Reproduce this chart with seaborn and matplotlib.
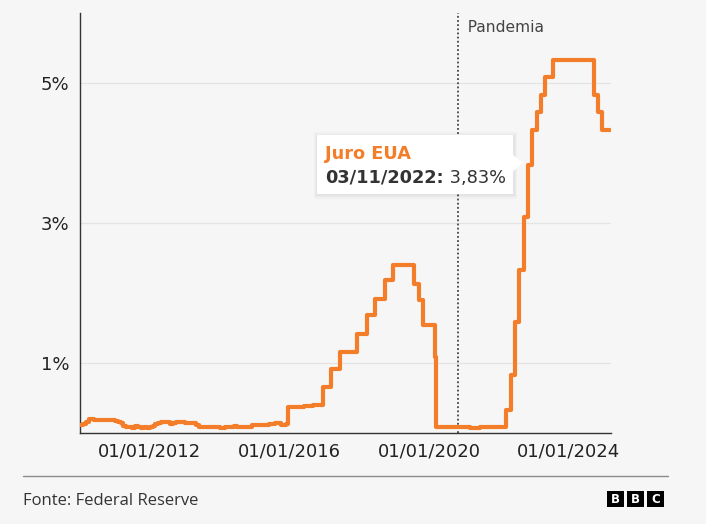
import numpy as np
import pandas as pd
import matplotlib
matplotlib.use("Agg")
import matplotlib.pyplot as plt
import matplotlib.dates as mdates
import matplotlib.ticker as mticker
import seaborn as sns
from matplotlib.patches import Polygon, Rectangle

# ---------------- data ----------------
early_start = "2010-01-01"
early_end = "2015-11-01"
early_rates = [
    0.11, 0.13, 0.16, 0.20, 0.20, 0.18, 0.18, 0.19, 0.19, 0.19, 0.19, 0.18,   # 2010
    0.17, 0.16, 0.14, 0.10, 0.09, 0.09, 0.07, 0.10, 0.08, 0.07, 0.08, 0.07,   # 2011
    0.08, 0.10, 0.13, 0.14, 0.16, 0.16, 0.16, 0.13, 0.14, 0.16, 0.16, 0.16,   # 2012
    0.14, 0.15, 0.14, 0.15, 0.11, 0.09, 0.09, 0.08, 0.08, 0.09, 0.08, 0.09,   # 2013
    0.07, 0.07, 0.08, 0.09, 0.09, 0.10, 0.09, 0.09, 0.09, 0.09, 0.09, 0.12,   # 2014
    0.11, 0.11, 0.11, 0.12, 0.12, 0.13, 0.13, 0.14, 0.14, 0.12, 0.12,         # 2015
]
step_dates = [
    "2015-12-01", "2015-12-17", "2016-03-01", "2016-06-01", "2016-09-01",
    "2016-12-15", "2017-03-16", "2017-06-15", "2017-12-14", "2018-03-22",
    "2018-06-14", "2018-09-27", "2018-12-20", "2019-08-01", "2019-09-19",
    "2019-10-31", "2020-03-04", "2020-03-16", "2020-06-01", "2020-11-01",
    "2021-03-01", "2021-06-17", "2022-01-01", "2022-03-17", "2022-05-05",
    "2022-06-16", "2022-07-28", "2022-09-22", "2022-11-03", "2022-12-15",
    "2023-02-02", "2023-03-23", "2023-05-04", "2023-07-27", "2024-09-19",
    "2024-11-08", "2024-12-19", "2025-03-14",
]
step_rates = [
    0.13, 0.37, 0.37, 0.38, 0.40,
    0.66, 0.91, 1.16, 1.42, 1.68,
    1.91, 2.19, 2.40, 2.13, 1.90,
    1.55, 1.09, 0.08, 0.08, 0.09,
    0.07, 0.08, 0.08, 0.33, 0.83,
    1.58, 2.33, 3.08, 3.83, 4.33,
    4.58, 4.83, 5.08, 5.33, 4.83,
    4.58, 4.33, 4.33,
]
series_name = "Juro EUA"
pandemic_date = "2020-11-03"
pandemic_label = "Pandemia"
tooltip_date = "03/11/2022:"
tooltip_value = " 3,83%"
y_ticks = [1, 3, 5]
y_tick_labels = ["1%", "3%", "5%"]
labelled_years = [2012, 2016, 2020, 2024]
source_text = "Fonte: Federal Reserve"

dates = list(pd.date_range(early_start, early_end, freq="MS")) + list(pd.to_datetime(step_dates))
rates = early_rates + step_rates
df = pd.DataFrame({"date": dates, "rate": rates})

# ---------------- style ----------------
BG = "#f6f6f6"
ORANGE = "#f47d2a"
DARK = "#222222"
W, H = 706, 524

sns.set_theme(style="white")
plt.rcParams["font.family"] = ["DejaVu Sans"]

fig = plt.figure(figsize=(W / 100, H / 100), dpi=100, facecolor=BG)

def fx(x):
    return x / W

def fy(y):
    return 1 - y / H

ax = fig.add_axes([fx(80), fy(433), fx(611) - fx(80), fy(13) - fy(433)])
ax.set_facecolor(BG)

for yv in y_ticks:
    ax.axhline(yv, color="#e4e4e4", lw=0.9, zorder=0)

sns.lineplot(data=df, x="date", y="rate", ax=ax, color=ORANGE, lw=3.0,
             drawstyle="steps-post", zorder=3, legend=False)

ax.axvline(pd.Timestamp(pandemic_date), color="#444444", lw=1.3,
           ls=(0, (1, 1.3)), zorder=2)

ax.set_xlim(pd.Timestamp("2010-01-01"), pd.Timestamp("2025-03-20"))
ax.set_ylim(0, 6)
ax.set_xlabel("")
ax.set_ylabel("")

ax.set_yticks(y_ticks)
ax.set_yticklabels(y_tick_labels)
ax.xaxis.set_major_locator(mdates.YearLocator(2))

def fmt(x, pos):
    d = mdates.num2date(x)
    return d.strftime("%d/%m/%Y") if d.year in labelled_years else ""

ax.xaxis.set_major_formatter(mticker.FuncFormatter(fmt))

for s in ["top", "right"]:
    ax.spines[s].set_visible(False)
for s in ["left", "bottom"]:
    ax.spines[s].set_color("#333333")
    ax.spines[s].set_linewidth(1.0)

ax.tick_params(axis="y", length=6, width=1, color="#555555", pad=1.5,
               labelsize=13, labelcolor=DARK)
ax.tick_params(axis="x", length=5, width=1, color="#555555", pad=1.5,
               labelsize=13, labelcolor=DARK)

ax.text(pd.Timestamp(pandemic_date), (433 - 28) / 70, "  " + pandemic_label, ha="left",
        va="center", fontsize=11.2, color="#444444")

# ---------------- tooltip ----------------
bx0, by0, bx1, by1 = 317, 135, 513, 194
for i in range(3):
    off = 1.2 * (i + 1)
    fig.patches.append(Rectangle((fx(bx0 - off + 0.5), fy(by1 + off + 1)),
                                 fx(bx1 - bx0 + 2 * off), fy(0) - fy(by1 - by0 + 2 * off),
                                 transform=fig.transFigure, facecolor="#000000",
                                 alpha=0.022, edgecolor="none", zorder=5))
fig.patches.append(Rectangle((fx(bx0), fy(by1)), fx(bx1 - bx0), fy(0) - fy(by1 - by0),
                             transform=fig.transFigure, facecolor="white",
                             edgecolor="none", zorder=6))
fig.patches.append(Polygon([(fx(bx1 - 1), fy(154)), (fx(523), fy(163)), (fx(bx1 - 1), fy(172))],
                           closed=True, transform=fig.transFigure, facecolor="white",
                           edgecolor="none", zorder=6))

fig.text(fx(325), fy(159), series_name, ha="left", va="baseline", fontsize=12.8,
         fontweight="bold", color=ORANGE, zorder=7)
t1 = fig.text(fx(325), fy(183), tooltip_date, ha="left", va="baseline", fontsize=12.8,
              fontweight="bold", color="#333333", zorder=7)
fig.canvas.draw()
bb = t1.get_window_extent(renderer=fig.canvas.get_renderer())
fig.text(bb.x1 / W, fy(183), tooltip_value, ha="left", va="baseline", fontsize=12.8,
         color="#333333", zorder=7)

# ---------------- footer ----------------
fig.add_artist(plt.Line2D([fx(23), fx(668)], [fy(476), fy(476)], transform=fig.transFigure,
                          color="#8a8a8a", lw=1))
fig.text(fx(23), fy(505), source_text, ha="left", va="baseline", fontsize=12,
         color="#333333", family=["Open Sans", "DejaVu Sans"])
for i, ch in enumerate(["B", "B", "C"]):
    x0 = 607 + i * 20
    fig.patches.append(Rectangle((fx(x0), fy(507)), fx(16.5), fy(0) - fy(16.5),
                                 transform=fig.transFigure, facecolor="#000000",
                                 edgecolor="none"))
    fig.text(fx(x0 + 8.25), fy(499.5), ch, ha="center", va="center", fontsize=8.5,
             fontweight="bold", color="white")

fig.savefig("out.png", dpi=100, facecolor=BG)
